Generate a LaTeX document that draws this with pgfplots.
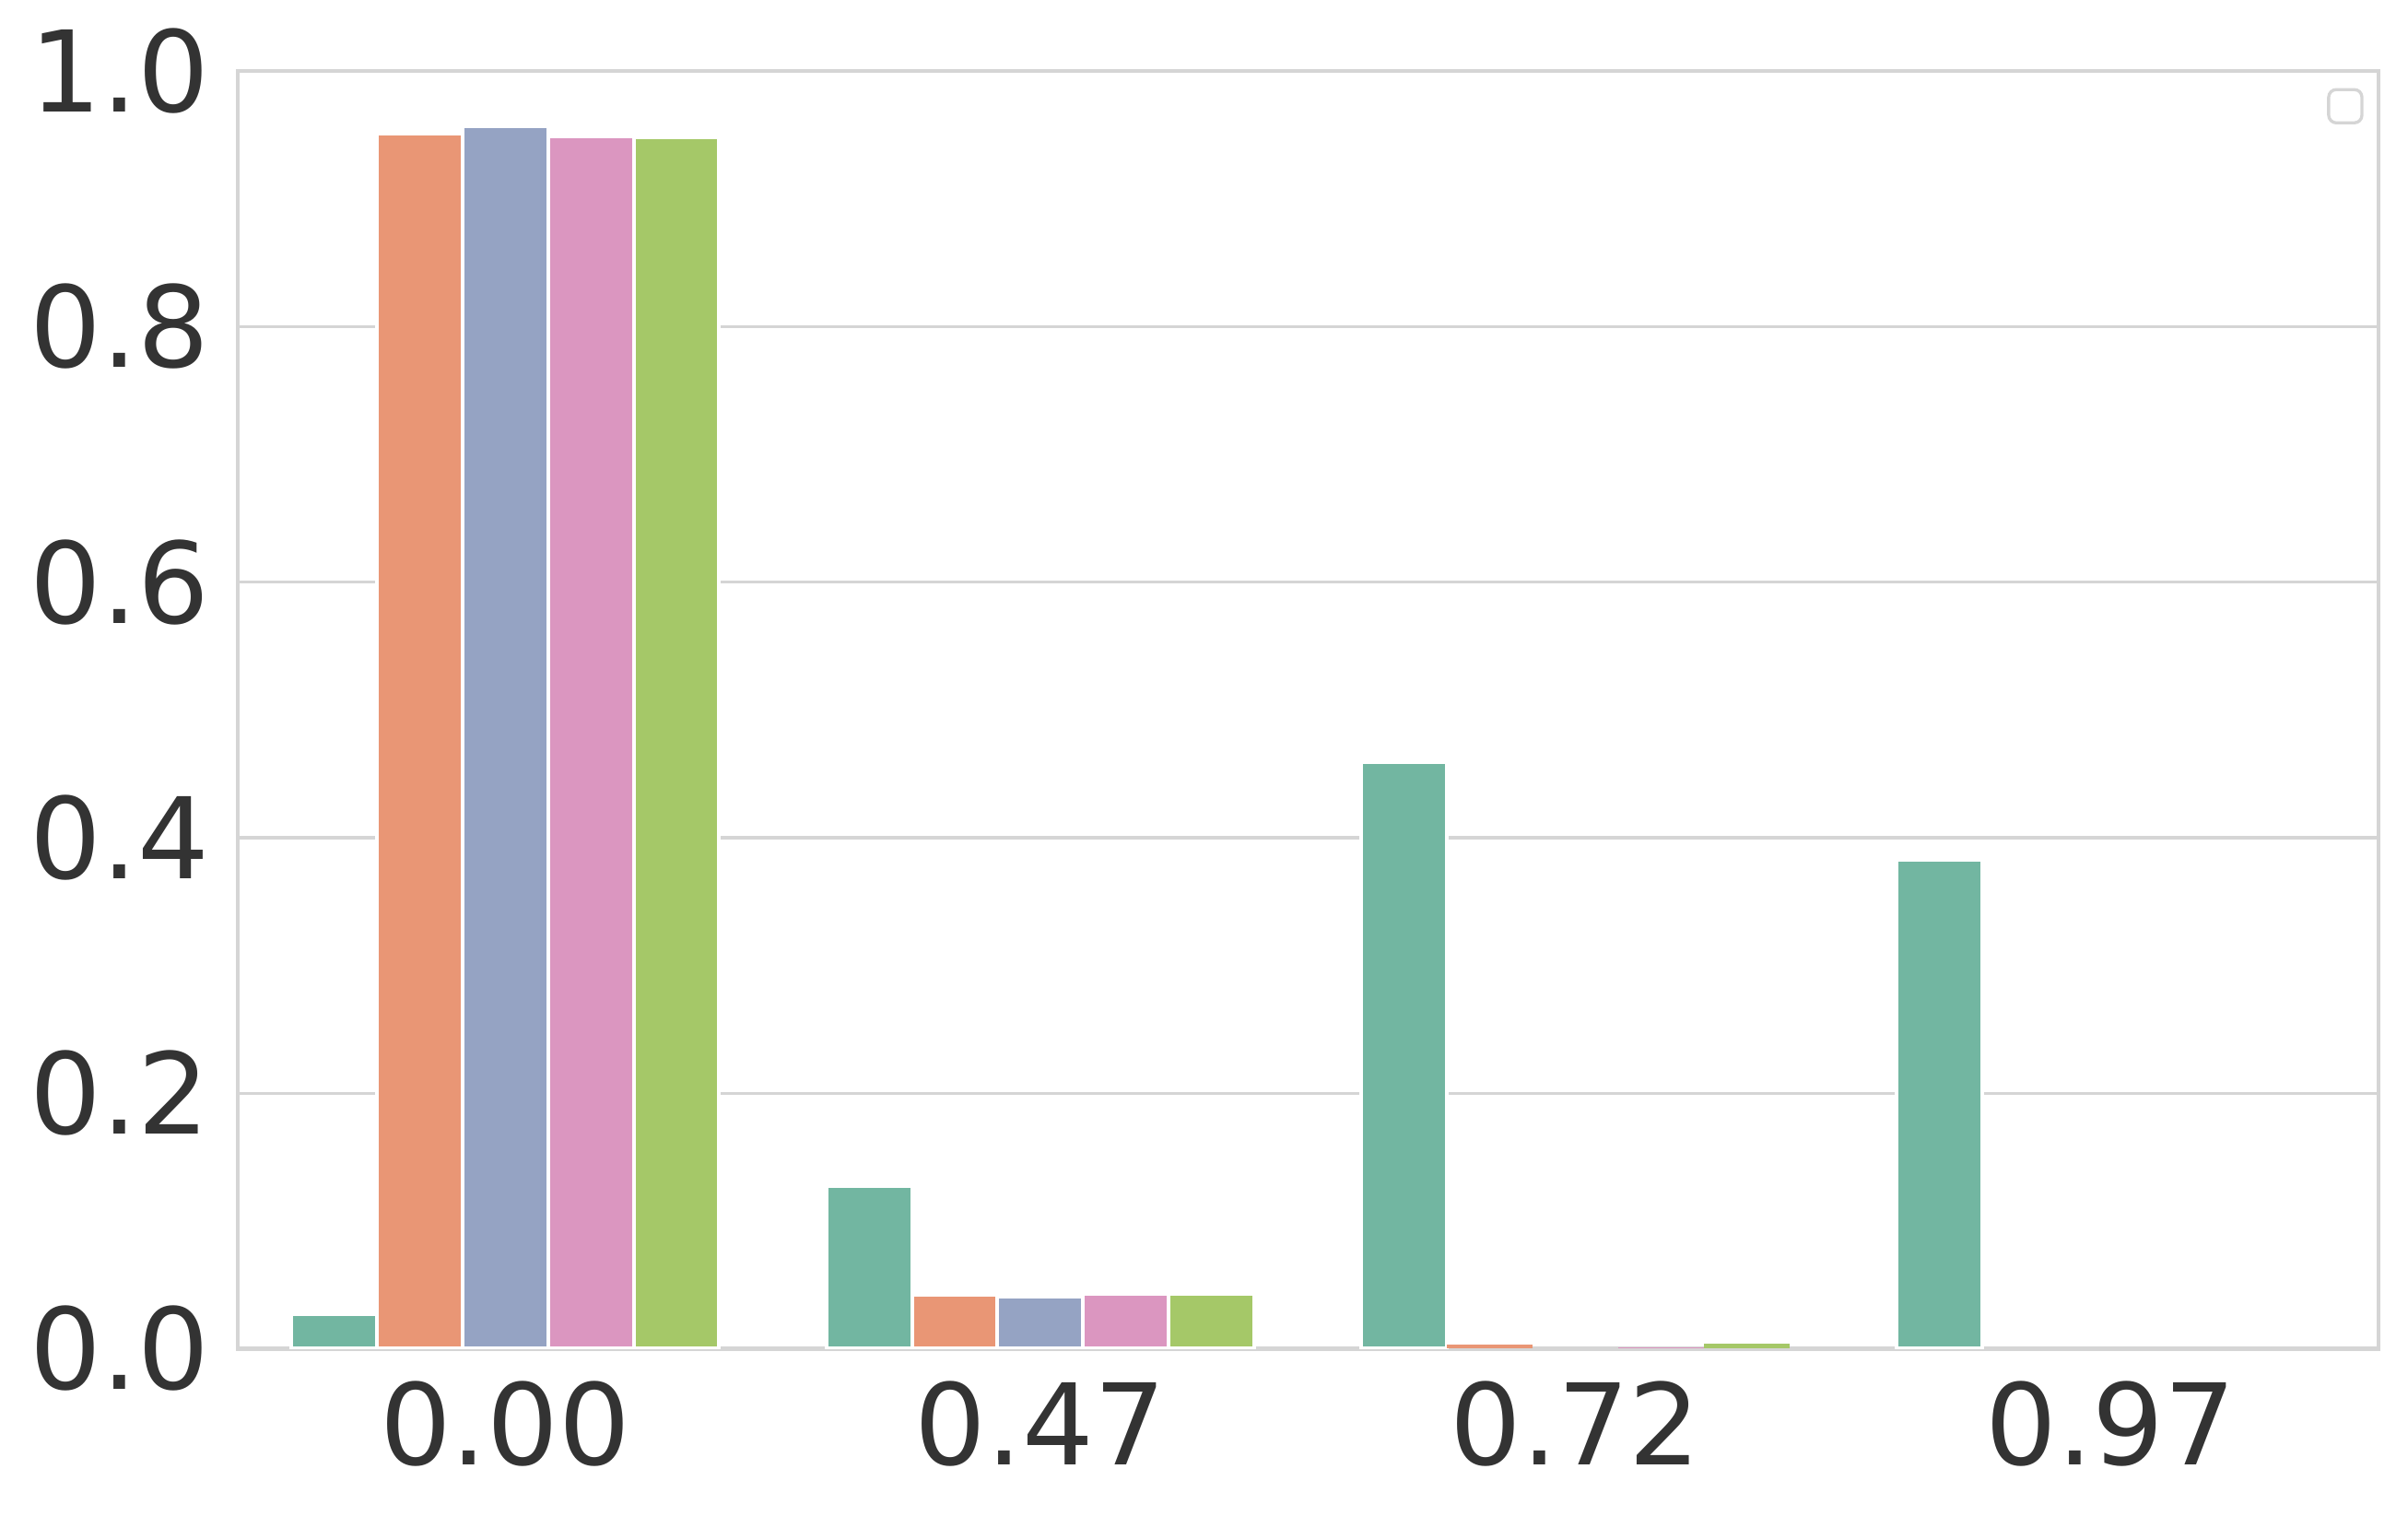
\documentclass[border=0pt]{standalone}
\usepackage{fontspec}
\setmainfont{DejaVu Sans}
\usepackage{pgfplots}
\pgfplotsset{compat=1.18}
\definecolor{c1}{HTML}{72B6A1}
\definecolor{c2}{HTML}{E99675}
\definecolor{c3}{HTML}{95A3C3}
\definecolor{c4}{HTML}{DB96C0}
\definecolor{c5}{HTML}{A5C868}
\definecolor{gridc}{HTML}{D5D5D5}
\definecolor{txt}{HTML}{333333}

\begin{document}
\begin{tikzpicture}
\begin{axis}[
  scale only axis,
  width=418.1pt, height=249.5pt,
  xmin=-0.5, xmax=3.5, ymin=0, ymax=1,
  xtick={0,1,2,3},
  xticklabels={0.00,0.47,0.72,0.97},
  ytick={0,0.2,0.4,0.6,0.8,1},
  yticklabels={0.0,0.2,0.4,0.6,0.8,1.0},
  major tick length=0pt,
  ymajorgrids,
  grid style={gridc, line width=0.6pt},
  axis line style={gridc, line width=0.75pt},
  tick label style={font=\fontsize{22}{26}\selectfont, text=txt},
  xticklabel style={inner sep=0pt, yshift=-6.1pt},
  yticklabel style={inner sep=0pt, xshift=-5.3pt},
  every axis plot/.append style={draw=white, line width=0.72pt},
]
% series 1 (teal)
\addplot[ybar, bar width=0.16, bar shift=-0.32, fill=c1] coordinates {(0,0.027) (1,0.127) (2,0.459) (3,0.383)};
% series 2 (orange)
\addplot[ybar, bar width=0.16, bar shift=-0.16, fill=c2] coordinates {(0,0.951) (1,0.042)};
\addplot[ybar, bar width=0.16, bar shift=-0.16, fill=c2, draw=none] coordinates {(2,0.003)};
% series 3 (blue)
\addplot[ybar, bar width=0.16, bar shift=0, fill=c3] coordinates {(0,0.957) (1,0.041)};
% series 4 (pink)
\addplot[ybar, bar width=0.16, bar shift=0.16, fill=c4] coordinates {(0,0.949) (1,0.043)};
\addplot[ybar, bar width=0.16, bar shift=0.16, fill=c4, draw=none] coordinates {(2,0.0012)};
% series 5 (green)
\addplot[ybar, bar width=0.16, bar shift=0.32, fill=c5] coordinates {(0,0.948) (1,0.043)};
\addplot[ybar, bar width=0.16, bar shift=0.32, fill=c5, draw=none] coordinates {(2,0.004)};
\end{axis}
% empty legend frame
\draw[gridc, line width=0.6pt, rounded corners=1.5pt]
  ([xshift=-9.7pt,yshift=-10.1pt]current axis.north east) rectangle ++(6.5pt,6.5pt);
\pgfresetboundingbox
\path[use as bounding box] ([xshift=-46.4pt,yshift=-32.6pt]current axis.south west)
  rectangle ([xshift=5.8pt,yshift=13.9pt]current axis.north east);
\end{tikzpicture}
\end{document}
